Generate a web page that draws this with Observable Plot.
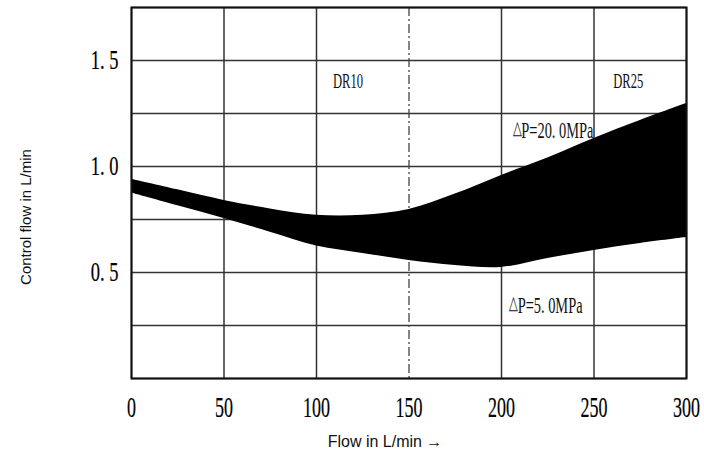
<!DOCTYPE html>
<html>
<head>
<meta charset="utf-8">
<script src="https://cdn.jsdelivr.net/npm/d3@7"></script>
<script src="https://cdn.jsdelivr.net/npm/@observablehq/plot@0.6"></script>
<style>
  html, body { margin: 0; padding: 0; background: #fff; }
</style>
</head>
<body>
<div id="chart"></div>
<script>
// Flow (L/min) sampled along the band
const flow  = [0, 25, 50, 75, 100, 125, 150, 175, 200, 225, 250, 275, 300];
// ΔP = 20.0 MPa boundary (upper edge of band)
const upper = [0.94, 0.89, 0.84, 0.80, 0.77, 0.77, 0.797, 0.87, 0.958, 1.04, 1.132, 1.217, 1.297];
// ΔP = 5.0 MPa boundary (lower edge of band)
const lower = [0.875, 0.815, 0.755, 0.69, 0.625, 0.59, 0.557, 0.533, 0.524, 0.566, 0.604, 0.637, 0.665];

const xTicks = [0, 50, 100, 150, 200, 250, 300];
const yTicks = [0.5, 1.0, 1.5];
const gridXSolid = [0, 50, 100, 200, 250, 300];
const gridXDash = [150];
const gridY = [0, 0.25, 0.5, 0.75, 1.0, 1.25, 1.5, 1.75];

const labelText = ["DR10", "DR25", "△P=20. 0MPa", "△P=5. 0MPa"];
const labelX = [117, 268.5, 206, 204];
const labelY = [1.40, 1.40, 1.17, 0.345];
const labelAnchor = ["middle", "middle", "start", "start"];

const band = flow.map((f, i) => ({flow: f, lo: lower[i], hi: upper[i]}));
const labels = labelText.map((t, i) => ({t, x: labelX[i], y: labelY[i], a: labelAnchor[i]}));

const serif = "Liberation Serif, Times New Roman, serif";

const chart = Plot.plot({
  width: 704,
  height: 454,
  marginLeft: 131,
  marginRight: 18,
  marginTop: 7,
  marginBottom: 76,
  x: {domain: [0, 300], axis: null},
  y: {domain: [0, 1.75], axis: null},
  style: {fontFamily: "Liberation Sans, Arial, sans-serif", background: "#fff", color: "#000"},
  marks: [
    Plot.ruleY(gridY, {stroke: "#333", strokeWidth: 1.5}),
    Plot.ruleX(gridXSolid, {stroke: "#333", strokeWidth: 1.5}),
    Plot.ruleX(gridXDash, {stroke: "#444", strokeWidth: 1.3, strokeDasharray: "9,3,2,3"}),
    Plot.areaY(band, {x: "flow", y1: "lo", y2: "hi", fill: "#000", curve: "catmull-rom"}),
    Plot.frame({stroke: "#111", strokeWidth: 2}),
    Plot.text(xTicks, {x: d => d, y: 0, dy: 29, text: d => String(d), fontFamily: serif, fontSize: 30, fill: "#000", stroke: "#000", strokeWidth: 0.2, ariaDescription: "cond-x"}),
    Plot.text(yTicks, {x: 0, y: d => d, dx: -13, text: d => d.toFixed(1).replace(".", ". "), textAnchor: "end", fontFamily: serif, fontSize: 28, fill: "#000", stroke: "#000", strokeWidth: 0.2, ariaDescription: "cond-y"}),
    Plot.text(labels.filter(d => d.a === "middle"), {x: "x", y: "y", text: "t", textAnchor: "middle", fontFamily: serif, fontSize: 21, fill: "#111", ariaDescription: "cond-l"}),
    Plot.text(labels.filter(d => d.a === "start"), {x: "x", y: "y", text: "t", textAnchor: "start", fontFamily: serif, fontSize: 24, fill: "#111", ariaDescription: "cond-p"}),
    Plot.text(["Control flow in L/min"], {frameAnchor: "left", dx: -105, dy: 24, rotate: -90, textAnchor: "middle", text: d => d, fontSize: 15, fill: "#111"}),
    Plot.text(["Flow in L/min →"], {frameAnchor: "bottom", dx: -24, dy: 63, lineAnchor: "middle", text: d => d, fontSize: 16, fill: "#111"})
  ]
});

function groupsOf(desc) {
  return Array.from(chart.querySelectorAll("g")).filter(g => g.getAttribute("aria-description") === desc);
}
function condense(desc, s) {
  groupsOf(desc).forEach(g => {
    g.querySelectorAll("text").forEach(el => {
      const t = el.getAttribute("transform");
      if (t) {
        el.setAttribute("transform", t + ` scale(${s},1)`);
      } else {
        const x = +el.getAttribute("x") || 0, y = +el.getAttribute("y") || 0;
        el.setAttribute("x", 0); el.setAttribute("y", 0);
        el.setAttribute("transform", `translate(${x},${y}) scale(${s},1)`);
      }
    });
  });
}
// small raised triangle in the ΔP labels
groupsOf("cond-p").forEach(g => {
  g.querySelectorAll("text").forEach(el => {
    const txt = el.textContent;
    if (txt.startsWith("△")) {
      el.textContent = "";
      const a = document.createElementNS("http://www.w3.org/2000/svg", "tspan");
      a.textContent = "△";
      a.setAttribute("font-size", "19");
      a.setAttribute("dy", "-4");
      const b = document.createElementNS("http://www.w3.org/2000/svg", "tspan");
      b.textContent = txt.slice(1);
      b.setAttribute("dy", "4");
      el.append(a, b);
    }
  });
});
condense("cond-x", 0.6);
condense("cond-y", 0.66);
condense("cond-l", 0.6);
condense("cond-p", 0.6);

document.getElementById("chart").append(chart);
</script>
</body>
</html>
